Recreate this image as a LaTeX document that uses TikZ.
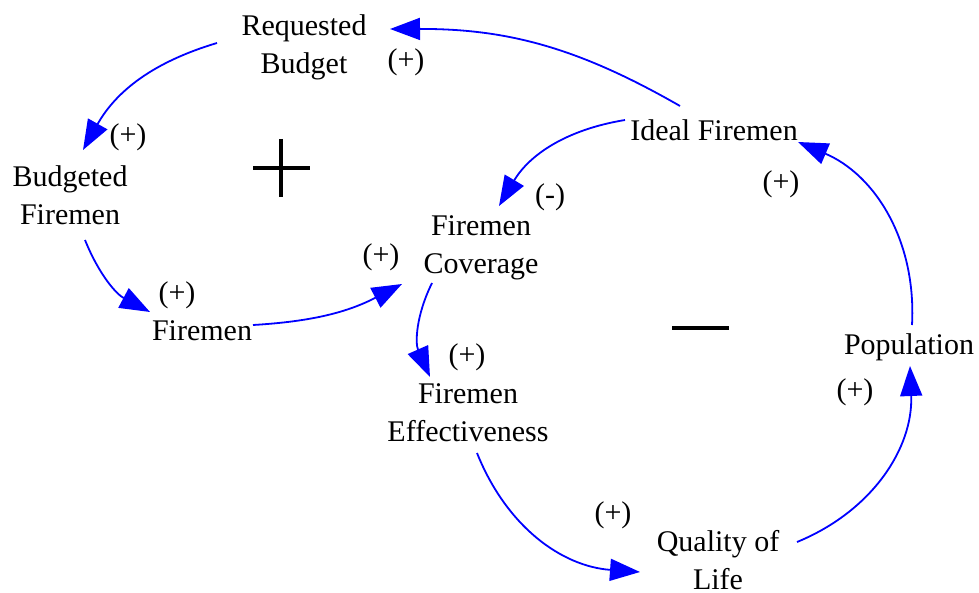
\documentclass[tikz,border=0pt]{standalone}
\usepackage{fontspec}
\setmainfont{Liberation Serif}
\usetikzlibrary{arrows.meta, calc}
\definecolor{linkblue}{RGB}{0,0,255}

\begin{document}
\begin{tikzpicture}[x=0.5pt, y=-0.5pt,
  var/.style={font=\fontsize{15}{19}\selectfont, align=center, inner sep=0pt},
  sign/.style={font=\fontsize{15}{19}\selectfont, inner sep=0pt},
  link/.style={linkblue, line width=0.9pt, -{Triangle[length=15pt, width=11pt]}}]
  \useasboundingbox (0,0) rectangle (979,593);

  % Variables
  \node[var] (rb) at (304,47) {Requested\\Budget};
  \node[var] (bf) at (70,195) {Budgeted\\Firemen};
  \node[var] (fm) at (202,331) {Firemen};
  \node[var] (fc) at (481,248) {Firemen\\Coverage};
  \node[var] (ideal) at (714,130) {Ideal Firemen};
  \node[var] (fe) at (468,413) {Firemen\\Effectiveness};
  \node[var] (ql) at (718,560) {Quality of\\Life};
  \node[var] (pop) at (909,347) {Population};

  % Causal links
  \draw[link] ($(ideal)+(-34,-24)$) to[bend right=15] ($(rb)+(86,-18)$);
  \draw[link] ($(rb)+(-87,-4)$) to[bend right=22] ($(bf)+(13,-45)$);
  \draw[link] ($(bf)+(15,45)$) to[bend right=20] ($(fm)+(-52,-19)$);
  \draw[link] ($(fm)+(51,-6)$) to[bend right=12] ($(fc)+(-79,36)$);
  \draw[link] ($(ideal)+(-89,-10)$) to[bend right=25] ($(fc)+(18,-42)$);
  \draw[link] ($(fc)+(-49,35)$) to[bend right=25] ($(fe)+(-38,-36)$);
  \draw[link] ($(fe)+(9,40)$) to[bend right=32] ($(ql)+(-78,12)$);
  \draw[link] ($(ql)+(79,-18)$) to[bend right=35] ($(pop)+(1,19)$);
  \draw[link] ($(pop)+(3,-22)$) to[bend right=35] ($(ideal)+(84,12)$);

  % Polarities
  \foreach \n/\x/\y/\s in {p1/406/62/(+), p2/128/137/(+), p3/177/295/(+),
      p4/381/257/(+), p5/550/197/(-), p6/781/184/(+), p7/467/357/(+),
      p8/613/515/(+), p9/855/392/(+)}{
    \node[sign] (\n) at (\x,\y) {\s};
  }

  % Loop markers
  \draw[line width=1.6pt] (253,168) -- (310,168) (281,139) -- (281,197);
  \draw[line width=2pt] (672,328) -- (729,328);
\end{tikzpicture}
\end{document}
